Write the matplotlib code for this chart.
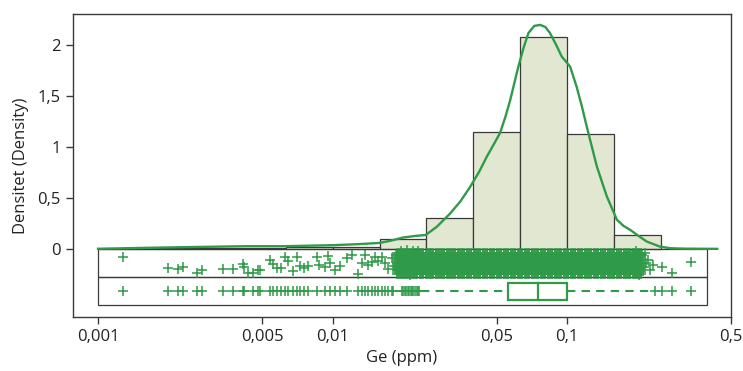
import numpy as np
import matplotlib
matplotlib.use("Agg")
import matplotlib.pyplot as plt
from matplotlib.ticker import FixedLocator, FixedFormatter, NullLocator
from matplotlib.patches import Rectangle

plt.rcParams['font.family'] = ['Open Sans', 'DejaVu Sans']

green = '#2f9a48'
fill = '#e2e7d1'
edge = '#3a3a3a'

# histogram (density in log10 units), bin edges in log10(ppm)
bin_edges = [-3.0, -2.8, -2.6, -2.4, -2.2, -2.0, -1.8, -1.6, -1.4, -1.2, -1.0, -0.8, -0.6]
bin_heights = [0.004, 0.01, 0.01, 0.01, 0.022, 0.022, 0.098, 0.307, 1.147, 2.078, 1.133, 0.137]

# density curve (log10 ppm, density)
kde_x = [-3.0, -2.65, -2.37, -2.2, -2.0, -1.89, -1.8, -1.75, -1.70, -1.65, -1.603,
         -1.556, -1.499, -1.455, -1.414, -1.375, -1.342, -1.31, -1.286, -1.263, -1.243,
         -1.225, -1.208, -1.185, -1.165, -1.14, -1.115, -1.093, -1.073, -1.048, -1.023,
         -1.005, -0.987, -0.959, -0.937, -0.916, -0.873, -0.831, -0.788, -0.76, -0.731,
         -0.695, -0.660, -0.603, -0.56, -0.5, -0.36]
kde_y = [0.005, 0.02, 0.03, 0.03, 0.04, 0.05, 0.062, 0.085, 0.115, 0.13, 0.14,
         0.22, 0.35, 0.47, 0.61, 0.76, 0.91, 1.04, 1.14, 1.30, 1.46,
         1.63, 1.79, 1.98, 2.12, 2.19, 2.20, 2.18, 2.12, 2.01, 1.89,
         1.84, 1.79, 1.59, 1.40, 1.20, 0.81, 0.52, 0.29, 0.23, 0.19,
         0.13, 0.075, 0.025, 0.01, 0.006, 0.004]

# jittered samples (sparse tails)
jit_x = [0.00128, 0.00198, 0.00220, 0.00231, 0.00265, 0.00277, 0.00342, 0.00375,
         0.00414, 0.00419, 0.00434, 0.00459, 0.00483, 0.00491, 0.00541, 0.00559,
         0.00578, 0.00603, 0.00627, 0.00648, 0.00677, 0.00703, 0.00726, 0.00758,
         0.00789, 0.00857, 0.00876, 0.00929, 0.00957, 0.00975, 0.01025, 0.01077,
         0.01150, 0.01211, 0.01288, 0.01336, 0.01377, 0.01420, 0.01475, 0.01518,
         0.01563, 0.01624, 0.01674, 0.01726, 0.01793, 0.0183, 0.0186, 0.0190,
         0.0196, 0.0200, 0.0207, 0.0213, 0.0221, 0.0232,
         0.196, 0.203, 0.209, 0.212, 0.215, 0.218, 0.222, 0.226, 0.233, 0.255,
         0.280, 0.338]
jit_y = [-0.073, -0.186, -0.193, -0.174, -0.229, -0.203, -0.193, -0.193,
         -0.144, -0.174, -0.232, -0.232, -0.203, -0.203, -0.102, -0.144,
         -0.180, -0.186, -0.075, -0.112, -0.216, -0.078, -0.164, -0.186,
         -0.164, -0.078, -0.154, -0.174, -0.066, -0.134, -0.203, -0.164,
         -0.085, -0.059, -0.242, -0.134, -0.056, -0.154, -0.125, -0.073,
         -0.115, -0.073, -0.131, -0.193, -0.085, -0.160, -0.060, -0.205,
         -0.018, -0.100, -0.012, -0.255, -0.020, -0.015,
         -0.020, -0.250, -0.060, -0.170, -0.039, -0.130, -0.110, -0.200, -0.154,
         -0.171, -0.235, -0.122]

# dense core of the jittered samples (two interleaved value sets)
dense_x = [0.0188, 0.0195, 0.0202, 0.0210, 0.0218, 0.0226, 0.0235, 0.0244, 0.0254,
           0.0264, 0.0275, 0.0287, 0.0300, 0.0313, 0.0327, 0.0342, 0.0357, 0.0373,
           0.0390, 0.0408, 0.0427, 0.0447, 0.0468, 0.0490, 0.0513, 0.0537, 0.0562,
           0.0588, 0.0615, 0.0644, 0.0674, 0.0705, 0.0738, 0.0772, 0.0808, 0.0845,
           0.0884, 0.0925, 0.0968, 0.1013, 0.1060, 0.1109, 0.1160, 0.1214, 0.1270,
           0.1329, 0.1390, 0.1454, 0.1521, 0.1591, 0.1664, 0.1740, 0.1820, 0.1903,
           0.1990, 0.2070]
dense_x2 = [0.0191, 0.0198, 0.0206, 0.0214, 0.0222, 0.0230, 0.0239, 0.0249, 0.0259,
            0.0269, 0.0281, 0.0293, 0.0306, 0.0320, 0.0334, 0.0349, 0.0365, 0.0381,
            0.0399, 0.0417, 0.0437, 0.0457, 0.0479, 0.0501, 0.0525, 0.0549, 0.0575,
            0.0601, 0.0629, 0.0659, 0.0689, 0.0721, 0.0755, 0.0790, 0.0826, 0.0864,
            0.0904, 0.0946, 0.0990, 0.1036, 0.1084, 0.1134, 0.1187, 0.1242, 0.1299,
            0.1359, 0.1422, 0.1487, 0.1556, 0.1627, 0.1702, 0.1780, 0.1861, 0.1946,
            0.2030]
dense_y = [-0.040, -0.058, -0.076, -0.094, -0.112, -0.130, -0.148, -0.166, -0.184,
           -0.202, -0.220, -0.238]

# strip row: values below the lower whisker and above the upper whisker
strip_x = [0.00128, 0.00198, 0.00220, 0.00231, 0.00265, 0.00277, 0.00342, 0.00375,
           0.00414, 0.00419, 0.00459, 0.00483, 0.00491, 0.00541, 0.00559, 0.00578,
           0.00603, 0.00627, 0.00648, 0.00677, 0.00703, 0.00726, 0.00758, 0.00789,
           0.00857, 0.00929, 0.00975, 0.01025, 0.01077, 0.01150, 0.01288, 0.01333,
           0.01377, 0.01422, 0.01469, 0.01518, 0.01568, 0.01621, 0.01674, 0.01730,
           0.01787, 0.01815, 0.0197, 0.0200, 0.0203, 0.0206, 0.0209, 0.0212, 0.0215,
           0.0218, 0.0221, 0.0225, 0.0228, 0.0231, 0.0234,
           0.237, 0.254, 0.280, 0.338]

# box plot summary (ppm)
whisker_lo, q1, med, q3, whisker_hi = 0.0238, 0.0562, 0.0755, 0.1002, 0.23
row_min, row_max = 0.001, 0.395

fig = plt.figure(figsize=(7.43, 3.71), dpi=100)
ax = fig.add_axes([0.0983, 0.1456, 0.8856, 0.8167])
ax.set_xscale('log')

# histogram
lefts = [10 ** e for e in bin_edges[:-1]]
widths = [10 ** b - 10 ** a for a, b in zip(bin_edges[:-1], bin_edges[1:])]
ax.bar(lefts, bin_heights, width=widths, align='edge', color=fill,
       edgecolor=edge, linewidth=0.9, zorder=2)

# row frames
ax.add_patch(Rectangle((row_min, -0.275), row_max - row_min, 0.275,
                       facecolor='none', edgecolor=edge, linewidth=0.9, zorder=3))
ax.add_patch(Rectangle((row_min, -0.549), row_max - row_min, 0.274,
                       facecolor='none', edgecolor=edge, linewidth=0.9, zorder=3))

# jittered points
mk = dict(marker='+', color=green, markersize=7.5, markeredgewidth=1.1,
          linestyle='none', zorder=4)
ax.plot(jit_x, jit_y, **mk)
gx, gy = np.meshgrid(dense_x + dense_x2, dense_y)
ax.plot(gx.ravel(), gy.ravel(), **mk)

# strip row + box plot
yc = -0.412
ax.plot(strip_x, [yc] * len(strip_x), **mk)
ax.plot([whisker_lo, q1], [yc, yc], color=green, linestyle=(0, (4, 3)),
        linewidth=1.5, zorder=4)
ax.plot([q3, whisker_hi], [yc, yc], color=green, linestyle=(0, (4, 3)),
        linewidth=1.5, zorder=4)
ax.add_patch(Rectangle((q1, yc - 0.081), q3 - q1, 0.162, facecolor='white',
                       edgecolor=green, linewidth=1.6, zorder=5))
ax.plot([med, med], [yc - 0.081, yc + 0.081], color=green, linewidth=1.6, zorder=6)

# density curve
ax.plot([10 ** v for v in kde_x], kde_y, color=green, linewidth=1.7, zorder=6,
        solid_joinstyle='round')

ax.set_xlim(7.82e-4, 0.5)
ax.set_ylim(-0.664, 2.307)

xt = [0.001, 0.005, 0.01, 0.05, 0.1, 0.5]
xtl = ['0,001', '0,005', '0,01', '0,05', '0,1', '0,5']
ax.xaxis.set_major_locator(FixedLocator(xt))
ax.xaxis.set_major_formatter(FixedFormatter(xtl))
ax.xaxis.set_minor_locator(NullLocator())
yt = [0, 0.5, 1, 1.5, 2]
ytl = ['0', '0,5', '1', '1,5', '2']
ax.set_yticks(yt)
ax.set_yticklabels(ytl)

for s in ax.spines.values():
    s.set_color(edge)
    s.set_linewidth(1.0)
ax.tick_params(direction='out', length=5, width=1.0, color=edge,
               labelsize=12, labelcolor='#222222', pad=4)
ax.set_xlabel('Ge (ppm)', fontsize=12, color='#222222', labelpad=3)
ax.set_ylabel('Densitet (Density)', fontsize=12, color='#222222', labelpad=6)

fig.savefig('out.png', dpi=100)
